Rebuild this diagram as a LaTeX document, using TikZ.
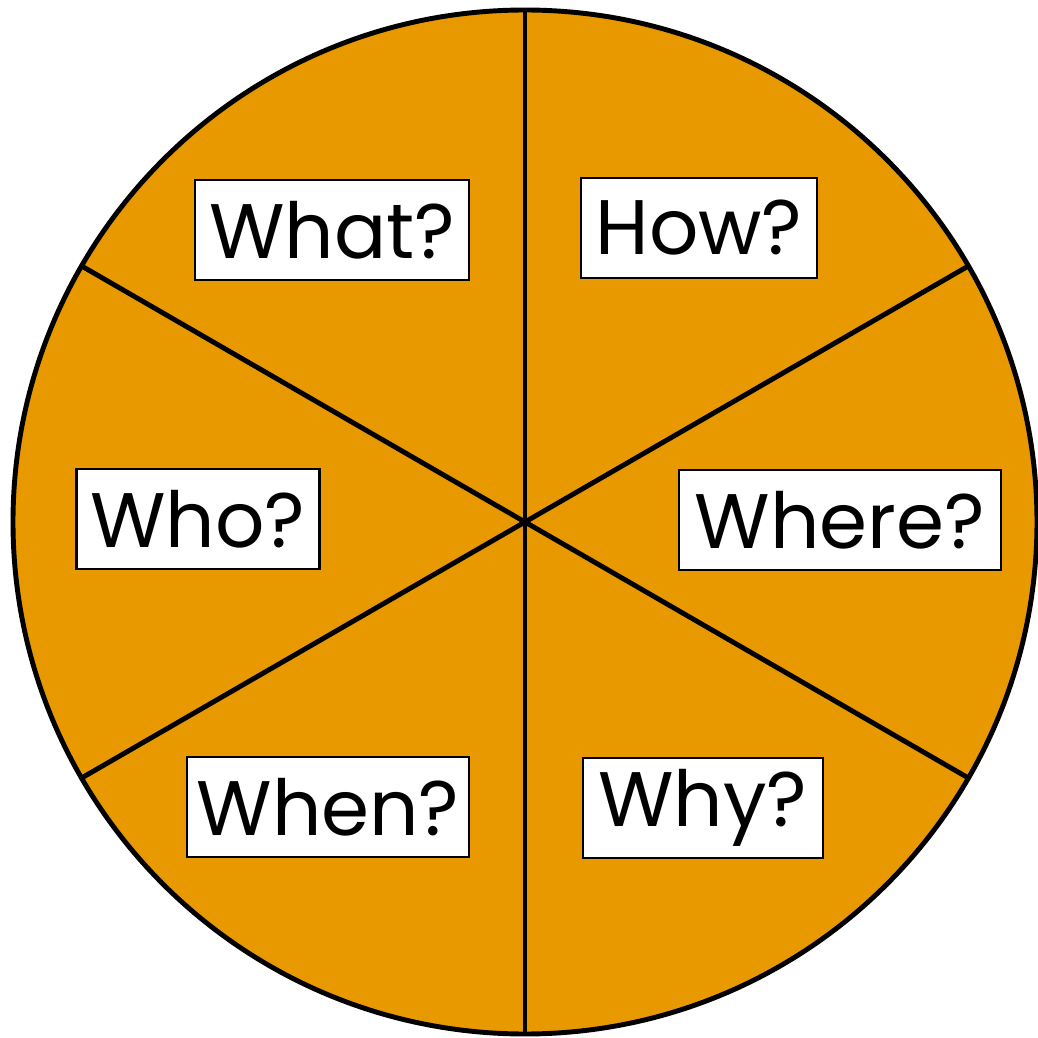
\documentclass[tikz,border=0pt]{standalone}
\usepackage{fontspec}
\setmainfont{Poppins}
\usepackage{tikz}
\usetikzlibrary{positioning,calc}
\definecolor{wheelorange}{RGB}{232,153,0}

\begin{document}
\begin{tikzpicture}[
    wlabel/.style={draw=black,line width=0.8pt,fill=white,minimum height=1.0cm,
                   inner xsep=2pt,inner ysep=0pt,font=\fontsize{22}{22}\selectfont}]
    \useasboundingbox (0,0) rectangle (10.38,10.38);

    % wheel
    \coordinate (c) at (5.25,5.16);
    \fill[wheelorange] (c) circle (5.12);
    \foreach \a/\n in {90/t,30/tr,-30/br,-90/b,150/tl,210/bl}
        \coordinate (\n) at ($(c)+(\a:5.12)$);
    \draw[line width=1.4pt] (t) -- (b);
    \draw[line width=1.4pt] (tl) -- (br);
    \draw[line width=1.4pt] (bl) -- (tr);
    \draw[line width=1.4pt] (c) circle (5.12);

    % labels
    \node[wlabel,minimum width=2.74cm] (what) at (3.32,8.08) {What?};
    \node[wlabel,minimum width=2.36cm] (how) at (6.99,8.10) {How?};
    \node[wlabel,minimum width=2.43cm] (who) at (1.98,5.19) {Who?};
    \node[wlabel,minimum width=3.22cm] (where) at (8.40,5.18) {Where?};
    \node[wlabel,minimum width=2.82cm] (when) at (3.28,2.31) {When?};
    \node[wlabel,minimum width=2.40cm] (why) at (7.03,2.30) {Why?};
\end{tikzpicture}
\end{document}
